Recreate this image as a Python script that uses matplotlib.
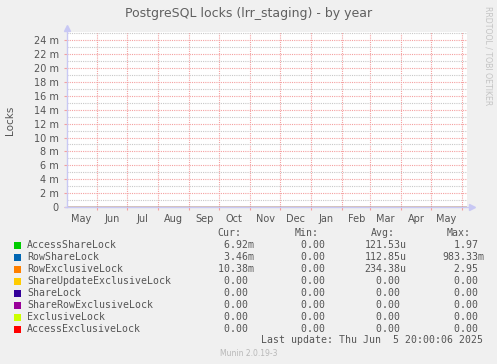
import datetime as dt
import matplotlib
matplotlib.use("Agg")
import matplotlib.pyplot as plt
import matplotlib.dates as mdates
from matplotlib.patches import Rectangle
from matplotlib.ticker import MultipleLocator, FuncFormatter

# legend data (values in locks)
lock_names = ["AccessShareLock", "RowShareLock", "RowExclusiveLock",
              "ShareUpdateExclusiveLock", "ShareLock", "ShareRowExclusiveLock",
              "ExclusiveLock", "AccessExclusiveLock"]
lock_colors = ["#00CC00", "#0066B3", "#FF8000", "#FFCC00",
               "#330099", "#990099", "#CCFF00", "#FF0000"]
cur_values = [6.92e-3, 3.46e-3, 10.38e-3, 0.0, 0.0, 0.0, 0.0, 0.0]
min_values = [0.0, 0.0, 0.0, 0.0, 0.0, 0.0, 0.0, 0.0]
avg_values = [121.53e-6, 112.85e-6, 234.38e-6, 0.0, 0.0, 0.0, 0.0, 0.0]
max_values = [1.97, 983.33e-3, 2.95, 0.0, 0.0, 0.0, 0.0, 0.0]

# what the graph shows: monthly samples, flat at zero for every lock type
sample_dates = [dt.datetime(2024, 5, 2), dt.datetime(2024, 6, 1), dt.datetime(2024, 7, 1),
                dt.datetime(2024, 8, 1), dt.datetime(2024, 9, 1), dt.datetime(2024, 10, 1),
                dt.datetime(2024, 11, 1), dt.datetime(2024, 12, 1), dt.datetime(2025, 1, 1),
                dt.datetime(2025, 2, 1), dt.datetime(2025, 3, 1), dt.datetime(2025, 4, 1),
                dt.datetime(2025, 5, 1), dt.datetime(2025, 6, 5)]
sample_values = [0.0, 0.0, 0.0, 0.0, 0.0, 0.0, 0.0, 0.0, 0.0, 0.0, 0.0, 0.0, 0.0, 0.0]

start = dt.datetime(2024, 5, 1, 20, 0)
end = dt.datetime(2025, 6, 5, 20, 0)
last_update = "Last update: Thu Jun  5 20:00:06 2025"

W, H = 497, 364
BG = "#F0F0F0"
TXT = "#555555"
AXIS = "#C8C8F4"
MGRID = "#F4A0A0"
GRID = "#C8C8C8"
MONO = "DejaVu Sans Mono"


def fx(x):
    return x / W


def fy(y):
    return 1 - y / H


def si(v):
    if v == 0:
        return "%6.2f " % 0
    for scale, p in [(1, " "), (1e-3, "m"), (1e-6, "u"), (1e-9, "n")]:
        if abs(v) >= scale:
            return "%6.2f%s" % (v / scale, p)
    return "%6.2f " % v


fig = plt.figure(figsize=(W / 100, H / 100), dpi=100, facecolor=BG)
ax = fig.add_axes([fx(67), fy(207), fx(400), 175 / H], facecolor="white")

for name, color in zip(lock_names, lock_colors):
    ax.plot(sample_dates, sample_values, color=color, lw=0.8, zorder=1)

ax.set_xlim(start, end)
ax.set_ylim(0, 0.0252)

ax.yaxis.set_major_locator(MultipleLocator(0.002))
ax.yaxis.set_minor_locator(MultipleLocator(0.001))
ax.yaxis.set_major_formatter(FuncFormatter(lambda v, p: "0" if abs(v) < 1e-9 else "%d m" % round(v * 1000)))
ax.xaxis.set_major_locator(mdates.MonthLocator())
ax.xaxis.set_major_formatter(plt.NullFormatter())
ax.xaxis.set_minor_locator(mdates.MonthLocator(bymonthday=16))
ax.xaxis.set_minor_formatter(mdates.DateFormatter("%b"))

ax.tick_params(axis="y", which="major", length=2, color=MGRID, labelsize=7, labelcolor=TXT, pad=4)
ax.tick_params(axis="y", which="minor", length=0)
ax.tick_params(axis="x", which="major", length=2.5, color=MGRID, direction="out")
ax.tick_params(axis="x", which="minor", length=0, labelsize=7, labelcolor=TXT, pad=5)

ax.yaxis.grid(True, which="major", color=MGRID, lw=0.8, linestyle=(0, (1, 1)))
ax.yaxis.grid(True, which="minor", color=GRID, lw=0.8, linestyle=(0, (1, 1)))
ax.xaxis.grid(True, which="major", color=MGRID, lw=0.8, linestyle=(0, (1, 1)))
ax.set_axisbelow(True)

for s in ax.spines.values():
    s.set_visible(False)
# axes with arrow heads, rrdtool style
ax.plot([-0.006, 1.012], [0, 0], transform=ax.transAxes, color=AXIS, lw=1, clip_on=False, zorder=5)
ax.plot([1.012], [0], transform=ax.transAxes, marker=">", ms=4, color=AXIS, clip_on=False, zorder=5)
ax.plot([0, 0], [0, 1.025], transform=ax.transAxes, color=AXIS, lw=1, clip_on=False, zorder=5)
ax.plot([0], [1.025], transform=ax.transAxes, marker="^", ms=4, color=AXIS, clip_on=False, zorder=5)

fig.text(fx(249), fy(14), "PostgreSQL locks (lrr_staging) - by year", ha="center", va="center",
         fontsize=9, color="#606060")
fig.text(fx(10), fy(120), "Locks", rotation=90, ha="center", va="center", fontsize=7.5, color=TXT)
fig.text(fx(488), fy(56), "RRDTOOL / TOBI OETIKER", rotation=270, ha="center", va="center",
         fontsize=5.6, color="#C4C4C4")

# legend block
fs = 7.1
cw = 0.602 * fs * 100 / 72
for lbl, x in [("Cur:", 217), ("Min:", 295), ("Avg:", 371), ("Max:", 447)]:
    fig.text(fx(x), fy(233), lbl, ha="left", va="center", fontsize=fs, family=MONO, color=TXT)

for i, name in enumerate(lock_names):
    y = 245 + 12 * i
    fig.patches.append(Rectangle((fx(14), fy(y + 3.5)), fx(7), 7 / H, transform=fig.transFigure,
                                 facecolor=lock_colors[i], edgecolor="none"))
    fig.text(fx(27), fy(y), name, ha="left", va="center", fontsize=fs, family=MONO, color=TXT)
    for vals, right in [(cur_values, 253.5), (min_values, 331), (avg_values, 406), (max_values, 483.5)]:
        s = si(vals[i])
        fig.text(fx(right - len(s) * cw), fy(y), s, ha="left", va="center", fontsize=fs,
                 family=MONO, color=TXT)

fig.text(fx(483), fy(340), last_update, ha="right", va="center", fontsize=fs, family=MONO, color=TXT)
fig.text(fx(249), fy(353), "Munin 2.0.19-3", ha="center", va="center", fontsize=5.5, color="#B8B8B8")

fig.savefig("out.png", dpi=100, facecolor=BG)
